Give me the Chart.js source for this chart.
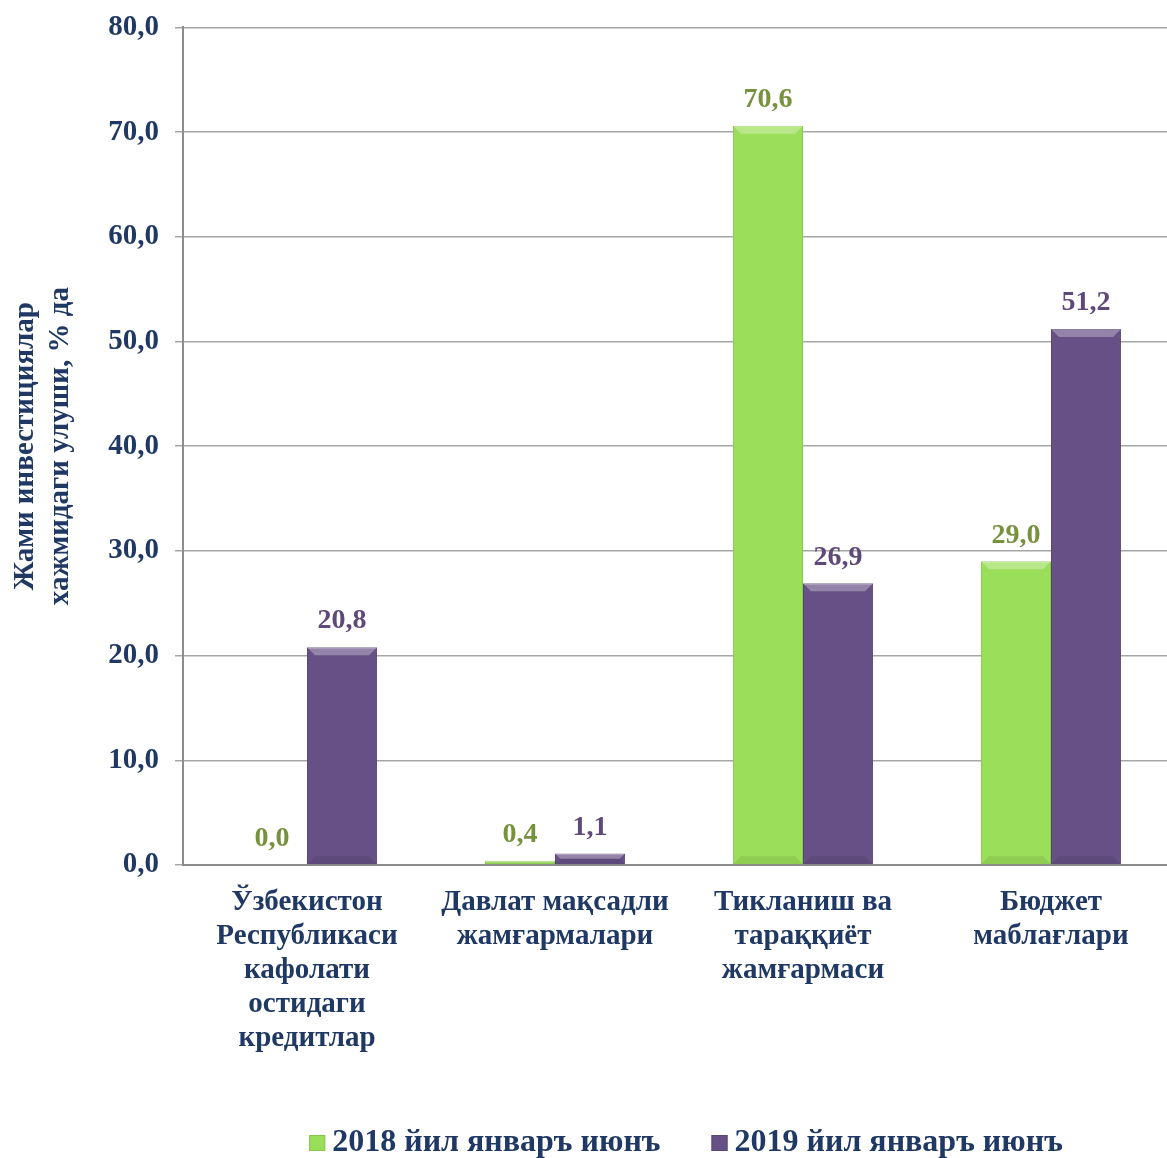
<!DOCTYPE html>
<html>
<head>
<meta charset="utf-8">
<script src="https://cdn.jsdelivr.net/npm/chart.js@4.4.1/dist/chart.umd.min.js"></script>
<style>
  html, body { margin: 0; padding: 0; background: #fff; overflow: hidden; }
  #wrap { width: 1175px; height: 1158px; }
</style>
</head>
<body>
<div id="wrap"><canvas id="investChart"></canvas></div>
<script>
const categories = [
  ['Ўзбекистон', 'Республикаси', 'кафолати', 'остидаги', 'кредитлар'],
  ['Давлат мақсадли', 'жамғармалари'],
  ['Тикланиш ва', 'тараққиёт', 'жамғармаси'],
  ['Бюджет', 'маблағлари']
];
const seriesNames = ['2018 йил январъ июнъ', '2019 йил январъ июнъ'];
const values2018 = [0.0, 0.4, 70.6, 29.0];
const values2019 = [20.8, 1.1, 26.9, 51.2];
const yTitle = ['Жами инвестициялар', 'хажмидаги улуши, % да'];

const navy = '#1F3864';
const fontFamily = '"Liberation Serif", "DejaVu Serif", serif';

const fmt = v => v.toFixed(1).replace('.', ',');

// labels above bars + simple bevel on bar edges
const barDecor = {
  id: 'barDecor',
  afterDatasetsDraw(chart) {
    const ctx = chart.ctx;
    chart.data.datasets.forEach((ds, i) => {
      const meta = chart.getDatasetMeta(i);
      meta.data.forEach((bar, j) => {
        const v = ds.data[j];
        const left = bar.x - bar.width / 2;
        const right = bar.x + bar.width / 2;
        const h = bar.base - bar.y;
        if (h > 3) {
          const b = Math.min(8, h / 2);
          ctx.save();
          ctx.fillStyle = 'rgba(255,255,255,0.3)';
          ctx.beginPath();
          ctx.moveTo(left, bar.y);
          ctx.lineTo(right, bar.y);
          ctx.lineTo(right - b, bar.y + b);
          ctx.lineTo(left + b, bar.y + b);
          ctx.closePath();
          ctx.fill();
          ctx.fillStyle = 'rgba(0,0,0,0.08)';
          ctx.beginPath();
          ctx.moveTo(left, bar.base);
          ctx.lineTo(right, bar.base);
          ctx.lineTo(right - b, bar.base - b);
          ctx.lineTo(left + b, bar.base - b);
          ctx.closePath();
          ctx.fill();
          ctx.restore();
        }
        ctx.save();
        ctx.font = 'bold 28px ' + fontFamily;
        ctx.fillStyle = ds.labelColor;
        ctx.textAlign = 'center';
        ctx.textBaseline = 'middle';
        ctx.fillText(fmt(v), bar.x, bar.y - 26);
        ctx.restore();
      });
    });
  }
};

// legend drawn under the plot, centred on the chart area
const bottomLegend = {
  id: 'bottomLegend',
  afterDraw(chart) {
    const ctx = chart.ctx;
    const area = chart.chartArea;
    const box = 16, gap = 7, spacing = 51;
    ctx.save();
    ctx.font = 'bold 32px ' + fontFamily;
    const items = chart.data.datasets.map(ds => ({
      ds, w: ctx.measureText(ds.label).width
    }));
    const total = items.reduce((s, it) => s + box + gap + it.w, 0) + spacing * (items.length - 1);
    let x = (area.left + area.right) / 2 + 7 - total / 2;
    const y = 1143;
    items.forEach(it => {
      ctx.fillStyle = it.ds.backgroundColor;
      ctx.fillRect(x, y - box / 2, box, box);
      ctx.strokeStyle = it.ds.borderColor;
      ctx.lineWidth = 1;
      ctx.strokeRect(x + 0.5, y - box / 2 + 0.5, box - 1, box - 1);
      x += box + gap;
      ctx.fillStyle = navy;
      ctx.textAlign = 'left';
      ctx.textBaseline = 'middle';
      ctx.fillText(it.ds.label, x, y);
      x += it.w + spacing;
    });
    ctx.restore();
  }
};

new Chart(document.getElementById('investChart').getContext('2d'), {
  type: 'bar',
  data: {
    labels: categories,
    datasets: [{
      label: seriesNames[0],
      data: values2018,
      backgroundColor: '#9BDE5A',
      borderColor: '#86C84A',
      borderWidth: 1,
      labelColor: '#76923C'
    }, {
      label: seriesNames[1],
      data: values2019,
      backgroundColor: '#675086',
      borderColor: '#5A4676',
      borderWidth: 1,
      labelColor: '#5F497A'
    }]
  },
  plugins: [barDecor, bottomLegend],
  options: {
    responsive: true,
    maintainAspectRatio: false,
    animation: false,
    layout: { padding: { top: 0, right: 0, left: 0, bottom: 77 } },
    datasets: {
      bar: { categoryPercentage: 0.565, barPercentage: 1.0 }
    },
    plugins: {
      legend: { display: false },
      tooltip: { enabled: false }
    },
    scales: {
      x: {
        grid: { display: false },
        border: { display: true, color: '#8C8C8C', width: 2 },
        ticks: {
          font: { family: fontFamily, size: 29, weight: 'bold', lineHeight: 1.18 },
          color: navy,
          maxRotation: 0,
          autoSkip: false,
          padding: 12
        },
        afterFit: scale => { scale.height = 216; }
      },
      y: {
        min: 0,
        max: 80,
        ticks: {
          stepSize: 10,
          callback: v => fmt(v),
          font: { family: fontFamily, size: 29, weight: 'bold', lineHeight: 0.78 },
          color: navy,
          padding: 16
        },
        grid: { color: '#A6A6A6', lineWidth: 1.5, tickLength: 8 },
        border: { display: true, color: '#8C8C8C', width: 2 },
        title: {
          display: true,
          text: yTitle,
          font: { family: fontFamily, size: 29, weight: 'bold', lineHeight: 1.2 },
          color: navy,
          padding: 8
        },
        afterFit: scale => { scale.width = 183; }
      }
    }
  }
});
</script>
</body>
</html>
